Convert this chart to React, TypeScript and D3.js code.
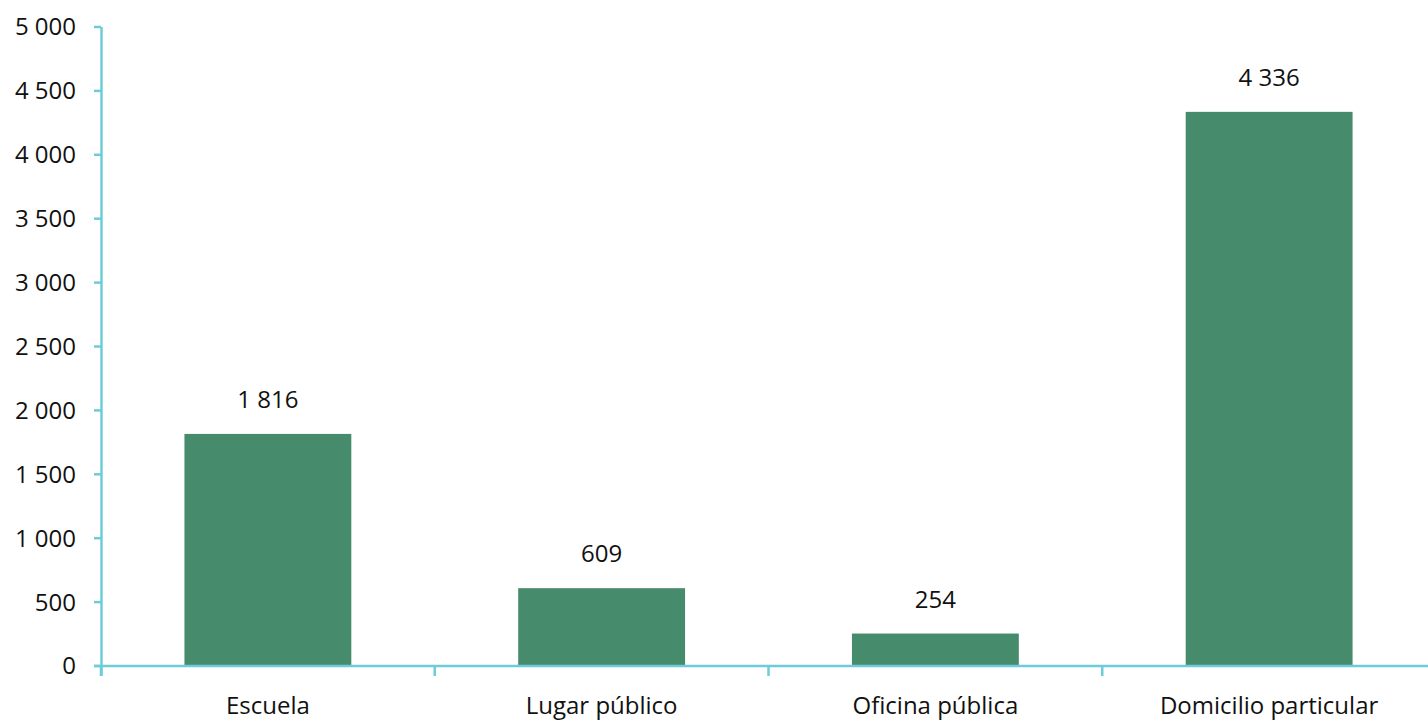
import React from "react";
import * as d3 from "d3";

const categories = ["Escuela", "Lugar público", "Oficina pública", "Domicilio particular"];
const values = [1816, 609, 254, 4336];
const yTicks = [0, 500, 1000, 1500, 2000, 2500, 3000, 3500, 4000, 4500, 5000];

const W = 1428;
const H = 721;
const axisColor = "#6ECCD9";
const barColor = "#468B6B";
const font = "'Open Sans', 'Noto Sans', sans-serif";
const fs = 24;

const fmt = (v: number) => {
  const s = String(v);
  return s.replace(/\B(?=(\d{3})+(?!\d))/g, " ");
};

export default function App() {
  const x = d3.scaleBand<string>().domain(categories).range([101, 1436]).paddingInner(0.5).paddingOuter(0.25);
  const y = d3.scaleLinear().domain([0, 5000]).range([666, 27]);
  const bandEdges = categories.map((c) => (x(c) as number) - x.step() * 0.25);
  return (
    <svg width={W} height={H} style={{ position: "absolute", left: 0, top: 0, background: "#fff" }}>
      {categories.map((c, i) => (
        <g key={c}>
          <rect x={x(c)} y={y(values[i])} width={x.bandwidth()} height={y(0) - y(values[i])} fill={barColor} />
          <text
            x={(x(c) as number) + x.bandwidth() / 2}
            y={y(values[i]) - 26}
            textAnchor="middle"
            fontFamily={font}
            fontSize={fs}
            fill="#111"
          >
            {fmt(values[i])}
          </text>
          <text
            x={(x(c) as number) + x.bandwidth() / 2}
            y={714}
            textAnchor="middle"
            fontFamily={font}
            fontSize={fs}
            fill="#111"
          >
            {c}
          </text>
        </g>
      ))}
      {/* y axis */}
      <line x1={101.5} x2={101.5} y1={27} y2={676} stroke={axisColor} strokeWidth={2.5} />
      {yTicks.map((t) => (
        <g key={t}>
          <line x1={94} x2={101} y1={y(t)} y2={y(t)} stroke={axisColor} strokeWidth={2.5} />
          <text
            x={76}
            y={y(t)}
            dy="0.35em"
            textAnchor="end"
            fontFamily={font}
            fontSize={fs}
            fill="#111"
          >
            {fmt(t)}
          </text>
        </g>
      ))}
      {/* x axis */}
      <line x1={94} x2={W} y1={666} y2={666} stroke={axisColor} strokeWidth={2.5} />
      {bandEdges.concat([1436]).map((e, i) => (
        <line key={i} x1={e} x2={e} y1={666} y2={676} stroke={axisColor} strokeWidth={2.5} />
      ))}
    </svg>
  );
}
